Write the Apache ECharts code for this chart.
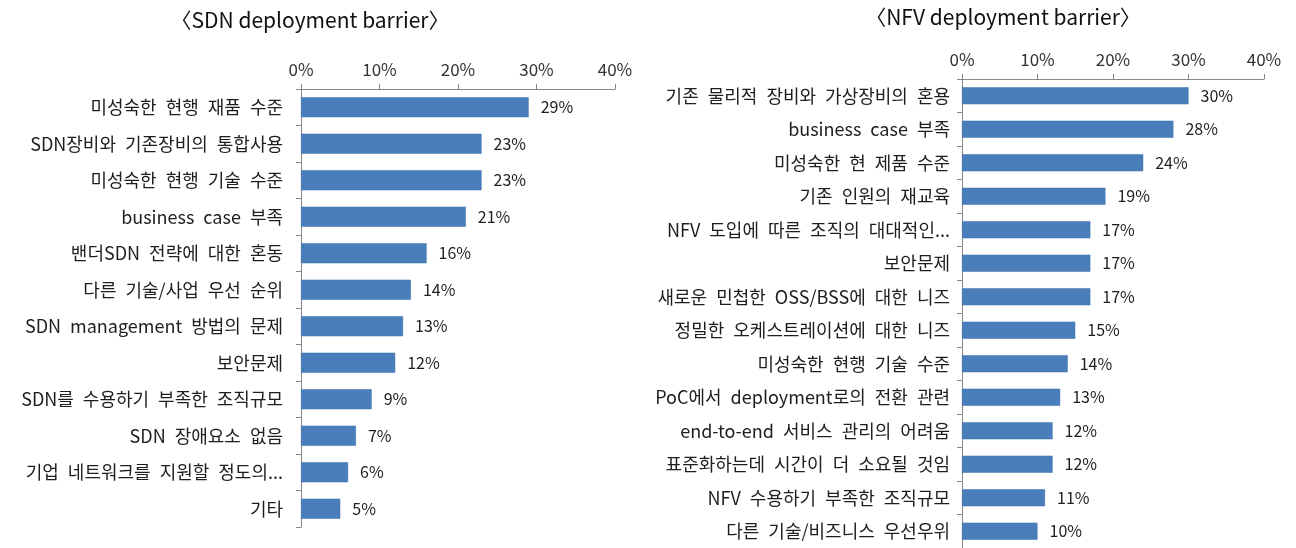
<!DOCTYPE html>
<html>
<head>
<meta charset="utf-8">
<script src="https://cdn.jsdelivr.net/npm/echarts@6/dist/echarts.min.js"></script>
<style>
html,body{margin:0;padding:0;background:#fff;}
#main{width:1296px;height:548px;}
</style>
</head>
<body>
<div id="main"></div>
<script>
const sdnTitle = '〈SDN deployment barrier〉';
const nfvTitle = '〈NFV deployment barrier〉';
const sdnCategories = [
  '미성숙한 현행 재품 수준',
  'SDN장비와 기존장비의 통합사용',
  '미성숙한 현행 기술 수준',
  'business case 부족',
  '밴더SDN 전략에 대한 혼동',
  '다른 기술/사업 우선 순위',
  'SDN management 방법의 문제',
  '보안문제',
  'SDN를 수용하기 부족한 조직규모',
  'SDN 장애요소 없음',
  '기업 네트워크를 지원할 정도의...',
  '기타'
];
const sdnValues = [29, 23, 23, 21, 16, 14, 13, 12, 9, 7, 6, 5];
const nfvCategories = [
  '기존 물리적 장비와 가상장비의 혼용',
  'business case 부족',
  '미성숙한 현 제품 수준',
  '기존 인원의 재교육',
  'NFV 도입에 따른 조직의 대대적인...',
  '보안문제',
  '새로운 민첩한 OSS/BSS에 대한 니즈',
  '정밀한 오케스트레이션에 대한 니즈',
  '미성숙한 현행 기술 수준',
  'PoC에서 deployment로의 전환 관련',
  'end-to-end 서비스 관리의 어려움',
  '표준화하는데 시간이 더 소요될 것임',
  'NFV 수용하기 부족한 조직규모',
  '다른 기술/비즈니스 우선우위'
];
const nfvValues = [30, 28, 24, 19, 17, 17, 17, 15, 14, 13, 12, 12, 11, 10];
const axisTicks = [0, 10, 20, 30, 40];

const FONT = '"Noto Sans CJK KR", "Noto Sans", sans-serif';
const BAR = '#4A7EBB';
const TEXT = '#1e1e1e';

function valueAxis(gridIndex) {
  return {
    type: 'value', gridIndex: gridIndex, position: 'top',
    min: axisTicks[0], max: axisTicks[axisTicks.length - 1], interval: 10,
    axisLine: {show: true, lineStyle: {color: '#868686', width: 1}},
    axisTick: {show: true, length: 5, lineStyle: {color: '#868686'}},
    splitLine: {show: false},
    axisLabel: {formatter: '{value}%', color: '#333', fontSize: 17, fontFamily: FONT, margin: 11}
  };
}
function catAxis(gridIndex, cats, margin, size) {
  return {
    type: 'category', gridIndex: gridIndex, data: cats, inverse: true,
    axisLine: {show: true, lineStyle: {color: '#868686', width: 1}},
    axisTick: {show: true, length: 5, lineStyle: {color: '#868686'}},
    axisLabel: {color: TEXT, fontSize: size, fontFamily: FONT, margin: margin, interval: 0,
                formatter: function (v) { return v.replace(/ /g, '\u2002'); }}
  };
}
function barSeries(idx, vals, gap) {
  return {
    type: 'bar', xAxisIndex: idx, yAxisIndex: idx, data: vals,
    barCategoryGap: gap,
    itemStyle: {color: BAR, borderColor: '#3F72AE', borderWidth: 0.5},
    label: {show: true, position: 'right', distance: 12, formatter: '{c}%',
            color: TEXT, fontSize: 16, fontFamily: FONT},
    animation: false
  };
}

const chart = echarts.init(document.getElementById('main'), null, {renderer: 'canvas'});
chart.setOption({
  animation: false,
  backgroundColor: '#ffffff',
  title: [
    {text: sdnTitle, left: 305, top: 5, textAlign: 'center',
     textStyle: {fontSize: 21, fontWeight: 'normal', color: '#111', fontFamily: FONT}},
    {text: nfvTitle, left: 998, top: 2, textAlign: 'center',
     textStyle: {fontSize: 21, fontWeight: 'normal', color: '#111', fontFamily: FONT}}
  ],
  grid: [
    {left: 301, top: 89, width: 314, height: 438},
    {left: 962, top: 79, width: 302, height: 469}
  ],
  xAxis: [valueAxis(0), valueAxis(1)],
  yAxis: [catAxis(0, sdnCategories, 18, 18), catAxis(1, nfvCategories, 12, 18)],
  series: [barSeries(0, sdnValues, '45%'), barSeries(1, nfvValues, '49%')]
});
</script>
</body>
</html>
